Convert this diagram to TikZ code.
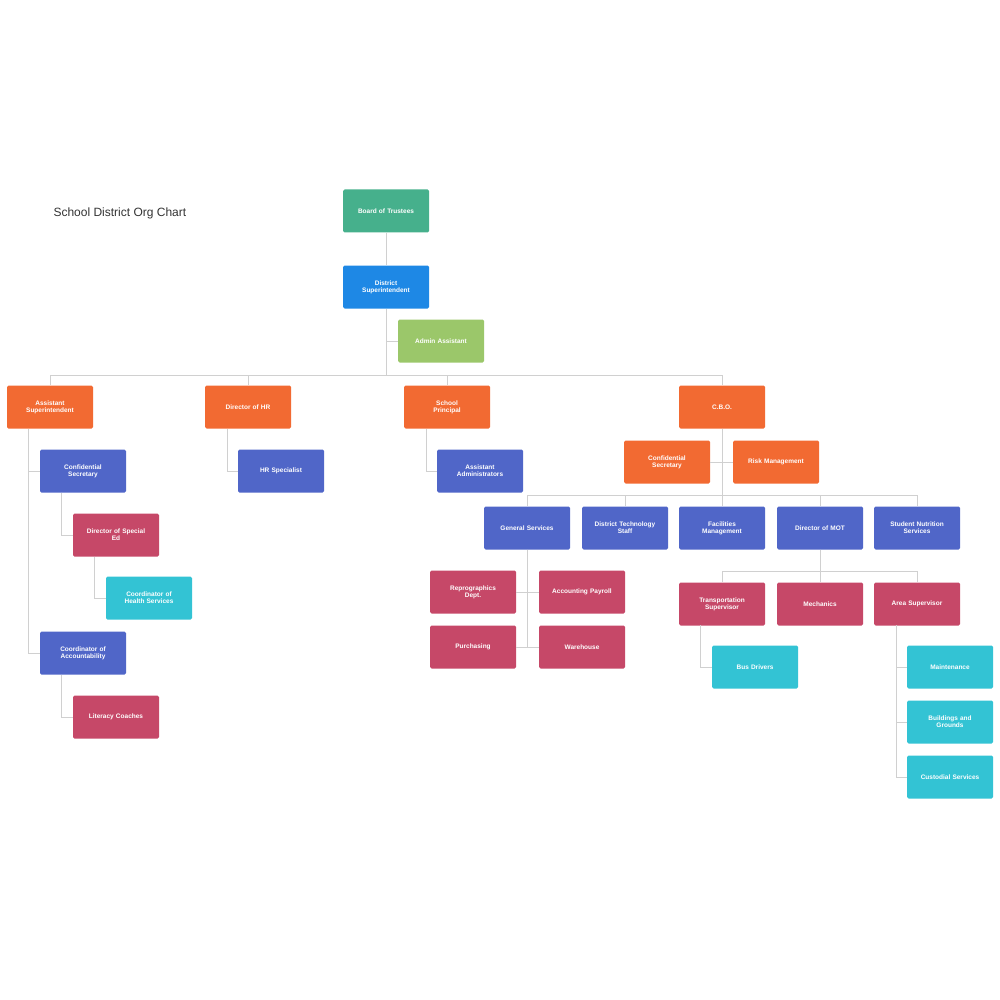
\documentclass[tikz,border=0pt]{standalone}
\usepackage{fontspec}
\setmainfont{Liberation Sans}
\definecolor{cteal}{HTML}{46B08C}
\definecolor{cblue}{HTML}{1E88E5}
\definecolor{clime}{HTML}{9BC76A}
\definecolor{corange}{HTML}{F26A32}
\definecolor{cindigo}{HTML}{5066C8}
\definecolor{cred}{HTML}{C64868}
\definecolor{ccyan}{HTML}{33C3D4}
\definecolor{cline}{HTML}{D0D0D0}
\tikzset{
 box/.style={rounded corners=1.5pt, minimum width=86pt, minimum height=43pt, text width=78pt, align=center, text=white, font=\fontsize{6.5}{7}\selectfont\bfseries, inner sep=1pt},
 bteal/.style={box, fill=cteal}, bblue/.style={box, fill=cblue}, blime/.style={box, fill=clime},
 borange/.style={box, fill=corange}, bindigo/.style={box, fill=cindigo}, bred/.style={box, fill=cred}, bcyan/.style={box, fill=ccyan},
 conn/.style={draw=cline, line width=0.9pt}
}
\begin{document}
\begin{tikzpicture}[x=1pt,y=-1pt]
\useasboundingbox (0,0) rectangle (1000,1000);
\node[anchor=west, font=\fontsize{12}{14}\selectfont, text=black!80] (title) at (50,213) {School District Org Chart};
% connectors first
\coordinate (hl) at (50,375); \coordinate (hr) at (722,375);
\coordinate (gl) at (527,495); \coordinate (gr) at (917,495);
\coordinate (ml) at (722,571); \coordinate (mr) at (917,571);
\node[bteal] (board) at (386,211) {Board of Trustees};
\node[bblue] (dsup) at (386,287) {District\\Superintendent};
\node[blime] (admin) at (441,341) {Admin Assistant};
\node[borange] (asup) at (50,407) {Assistant\\Superintendent};
\node[borange] (dhr) at (248,407) {Director of HR};
\node[borange] (prin) at (447,407) {School\\Principal};
\node[borange] (cbo) at (722,407) {C.B.O.};
\node[bindigo] (cs1) at (83,471) {Confidential\\Secretary};
\node[bred] (dse) at (116,535) {Director of Special\\Ed};
\node[bcyan] (chs) at (149,598) {Coordinator of\\Health Services};
\node[bindigo] (coa) at (83,653) {Coordinator of\\Accountability};
\node[bred] (lit) at (116,717) {Literacy Coaches};
\node[bindigo] (hrs) at (281,471) {HR Specialist};
\node[bindigo] (aadm) at (480,471) {Assistant\\Administrators};
\node[borange] (cs2) at (667,462) {Confidential\\Secretary};
\node[borange] (risk) at (776,462) {Risk Management};
\node[bindigo] (gen) at (527,528) {General Services};
\node[bindigo] (dts) at (625,528) {District Technology\\Staff};
\node[bindigo] (fac) at (722,528) {Facilities\\Management};
\node[bindigo] (mot) at (820,528) {Director of MOT};
\node[bindigo] (sns) at (917,528) {Student Nutrition\\Services};
\node[bred] (rep) at (473,592) {Reprographics\\Dept.};
\node[bred] (acc) at (582,592) {Accounting Payroll};
\node[bred] (pur) at (473,647) {Purchasing};
\node[bred] (war) at (582,647) {Warehouse};
\node[bred] (trs) at (722,604) {Transportation\\Supervisor};
\node[bred] (mech) at (820,604) {Mechanics};
\node[bred] (area) at (917,604) {Area Supervisor};
\node[bcyan] (bus) at (755,667) {Bus Drivers};
\node[bcyan] (mnt) at (950,667) {Maintenance};
\node[bcyan] (bld) at (950,722) {Buildings and\\Grounds};
\node[bcyan] (cus) at (950,777) {Custodial Services};
\begin{scope}[on background layer/.style={}]
\end{scope}
\begin{pgfinterruptboundingbox}\end{pgfinterruptboundingbox}
% lines (drawn under via behind path-free ordering: draw then re-draw nodes not needed since lines end at edges)
\draw[conn] (board.south) -- (dsup.north);
\draw[conn] (dsup.south) -- (386,375);
\draw[conn] (386,341) -- (admin.west);
\draw[conn] (hl) -- (hr);
\draw[conn] (hl) -- (asup.north);
\draw[conn] (248,375) -- (dhr.north);
\draw[conn] (447,375) -- (prin.north);
\draw[conn] (hr) -- (cbo.north);
\draw[conn] (28,429) |- (cs1.west);
\draw[conn] (28,429) |- (coa.west);
\draw[conn] (61,493) |- (dse.west);
\draw[conn] (94,557) |- (chs.west);
\draw[conn] (61,675) |- (lit.west);
\draw[conn] (227,429) |- (hrs.west);
\draw[conn] (426,429) |- (aadm.west);
\draw[conn] (cbo.south) -- (722,495);
\draw[conn] (cs2.east) -- (risk.west);
\draw[conn] (gl) -- (gr);
\draw[conn] (gl) -- (gen.north);
\draw[conn] (625,495) -- (dts.north);
\draw[conn] (722,495) -- (fac.north);
\draw[conn] (820,495) -- (mot.north);
\draw[conn] (gr) -- (sns.north);
\draw[conn] (gen.south) -- (527,647);
\draw[conn] (rep.east) -- (acc.west);
\draw[conn] (pur.east) -- (war.west);
\draw[conn] (mot.south) -- (820,571);
\draw[conn] (ml) -- (mr);
\draw[conn] (ml) -- (trs.north);
\draw[conn] (820,571) -- (mech.north);
\draw[conn] (mr) -- (area.north);
\draw[conn] (700,625) |- (bus.west);
\draw[conn] (896,625) |- (mnt.west);
\draw[conn] (896,625) |- (bld.west);
\draw[conn] (896,625) |- (cus.west);
\end{tikzpicture}
\end{document}
